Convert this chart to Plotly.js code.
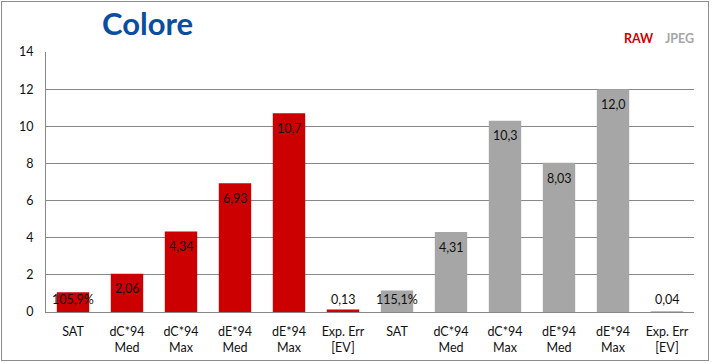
<!DOCTYPE html>
<html>
<head>
<meta charset="utf-8">
<script src="https://cdn.plot.ly/plotly-3.0.1.min.js"></script>
<style>
  html, body { margin: 0; padding: 0; background: #fff; }
  #wrap { position: relative; width: 712px; height: 363px; }
  #chart { width: 712px; height: 363px; }
  #frame { position: absolute; left: 1px; top: 1px; width: 708px; height: 360px;
           border: 1px solid #8c8c8c; pointer-events: none; box-sizing: border-box; }
</style>
</head>
<body>
<div id="wrap">
  <div id="chart"></div>
  <div id="frame"></div>
</div>
<script>
// ---- data ----
const rawLabels  = ['SAT', 'dC*94<br>Med', 'dC*94<br>Max', 'dE*94<br>Med', 'dE*94<br>Max', 'Exp. Err<br>[EV]'];
const jpegLabels = ['SAT', 'dC*94<br>Med', 'dC*94<br>Max', 'dE*94<br>Med', 'dE*94<br>Max', 'Exp. Err<br>[EV]'];
const rawValues  = [1.059, 2.06, 4.34, 6.93, 10.7, 0.13];
const jpegValues = [1.151, 4.31, 10.3, 8.03, 12.0, 0.04];
const seriesNames = ['RAW', 'JPEG'];

const RED = '#CC0000', GREY = '#A6A6A6', FONT = 'Lato, "Open Sans", sans-serif';

const rawX  = rawLabels.map((_, i) => i);
const jpegX = jpegLabels.map((_, i) => i + rawLabels.length);
const tickvals = rawX.concat(jpegX);
const ticktext = rawLabels.concat(jpegLabels);

function fmt(v, i) {
  if (i === 0) return (v * 100).toFixed(1).replace('.', ',') + '%';
  return (v >= 10 ? v.toFixed(1) : v.toFixed(2)).replace('.', ',');
}

const traces = [
  { type: 'bar', name: seriesNames[0], x: rawX, y: rawValues, width: 0.6,
    marker: { color: RED }, hoverinfo: 'none' },
  { type: 'bar', name: seriesNames[1], x: jpegX, y: jpegValues, width: 0.6,
    marker: { color: GREY }, hoverinfo: 'none' }
];

const annotations = [];
[[rawX, rawValues], [jpegX, jpegValues]].forEach(([xs, vs]) => {
  vs.forEach((v, i) => {
    annotations.push({
      x: xs[i], y: Math.max(v - 0.82, 0.66), xref: 'x', yref: 'y',
      text: fmt(v, i), showarrow: false, yanchor: 'middle',
      font: { family: FONT, size: 12.5, color: '#111' }
    });
  });
});
// legend-like labels
annotations.push({ xref: 'paper', yref: 'paper', x: (639 - 46) / 648, y: (312 - 39) / 260,
  text: '<b>' + seriesNames[0] + '</b>', showarrow: false, xanchor: 'center', yanchor: 'middle',
  font: { family: FONT, size: 12.5, color: RED } });
annotations.push({ xref: 'paper', yref: 'paper', x: (679 - 46) / 648, y: (312 - 39) / 260,
  text: '<b>' + seriesNames[1] + '</b>', showarrow: false, xanchor: 'center', yanchor: 'middle',
  font: { family: FONT, size: 12.5, color: GREY } });

const layout = {
  width: 712, height: 363,
  margin: { l: 46, r: 18, t: 52, b: 51 },
  paper_bgcolor: '#fff', plot_bgcolor: '#fff',
  showlegend: false,
  title: { text: '<b>Colore</b>', x: 102 / 712, xanchor: 'left', xref: 'container',
           y: 1 - 24 / 363, yanchor: 'middle', yref: 'container',
           font: { family: FONT, size: 31, color: '#0B4EA0' } },
  xaxis: { range: [-0.5, 11.5], tickvals: tickvals, ticktext: ticktext,
           showgrid: false, showline: true, linecolor: '#878787', linewidth: 1,
           ticks: 'outside', ticklen: 8, tickcolor: 'rgba(0,0,0,0)', zeroline: false,
           tickfont: { family: FONT, size: 12.5, color: '#111' }, fixedrange: true },
  yaxis: { range: [0, 14], dtick: 2, tick0: 0, showgrid: true, gridcolor: '#878787', gridwidth: 1,
           showline: true, linecolor: '#878787', zeroline: false,
           ticks: 'outside', ticklen: 9, tickcolor: 'rgba(0,0,0,0)',
           tickfont: { family: FONT, size: 12.5, color: '#111' }, fixedrange: true },
  annotations: annotations,
  bargap: 0.4
};

Plotly.newPlot('chart', traces, layout, { displayModeBar: false, staticPlot: true });
</script>
</body>
</html>
